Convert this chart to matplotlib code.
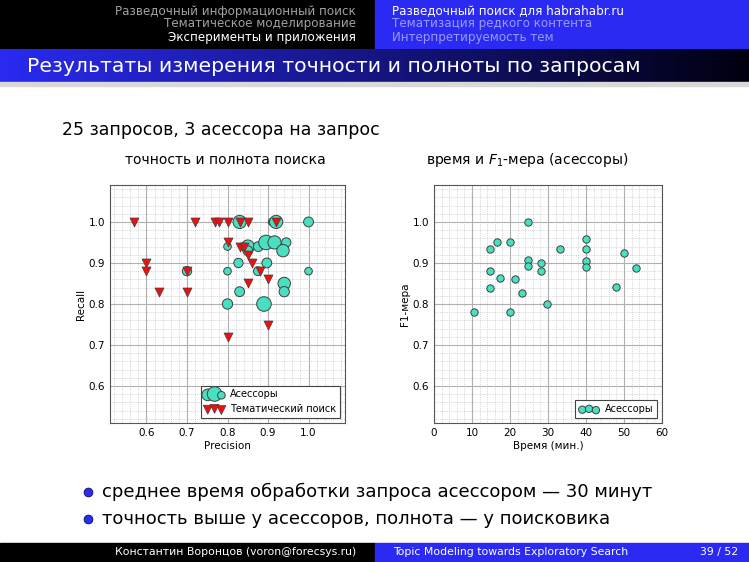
import matplotlib
matplotlib.use("Agg")
import matplotlib.pyplot as plt
from matplotlib.patches import Rectangle
from matplotlib.ticker import MultipleLocator
from matplotlib.colors import LinearSegmentedColormap
import numpy as np

# assessors: precision, recall, size class
ass_p = [0.83, 0.91, 0.92, 1.0, 0.80, 0.85, 0.85, 0.876, 0.895, 0.916, 0.945, 0.937,
         0.827, 0.897, 0.80, 0.70, 1.0, 0.83, 0.94, 0.94, 0.80, 0.89, 0.875]
ass_r = [1.0, 1.0, 1.0, 1.0, 0.94, 0.94, 0.93, 0.94, 0.95, 0.95, 0.95, 0.93,
         0.90, 0.90, 0.88, 0.88, 0.88, 0.83, 0.85, 0.83, 0.80, 0.80, 0.88]
ass_s = [90, 30, 90, 50, 30, 90, 50, 50, 110, 90, 45, 80,
         45, 50, 30, 45, 30, 50, 80, 55, 55, 110, 40]
# topic search
ts_p = [0.57, 0.72, 0.77, 0.78, 0.80, 0.83, 0.85, 0.92, 0.80, 0.83, 0.84, 0.85, 0.86,
        0.60, 0.60, 0.70, 0.88, 0.90, 0.85, 0.63, 0.70, 0.90, 0.80]
ts_r = [1.0, 1.0, 1.0, 1.0, 1.0, 1.0, 1.0, 1.0, 0.95, 0.94, 0.94, 0.92, 0.90,
        0.90, 0.88, 0.88, 0.88, 0.86, 0.85, 0.83, 0.83, 0.75, 0.72]
# time vs F1
t_min = [10.5, 14.8, 14.8, 14.8, 16.5, 17.4, 19.9, 19.9, 21.4, 23.2, 24.8, 24.8, 24.8,
         28.1, 28.1, 29.8, 33.2, 39.9, 39.9, 39.9, 39.9, 47.9, 49.9, 53.1]
f1 = [0.78, 0.935, 0.88, 0.838, 0.952, 0.863, 0.95, 0.78, 0.862, 0.828, 1.0, 0.908, 0.892,
      0.90, 0.881, 0.80, 0.934, 0.958, 0.934, 0.906, 0.891, 0.842, 0.924, 0.887]

W, H = 749, 562
fig = plt.figure(figsize=(W/100, H/100), dpi=100)
fig.patch.set_facecolor("white")
bg = fig.add_axes([0, 0, 1, 1]); bg.axis("off")

BLUE = "#2a2af2"
bg.add_patch(Rectangle((0, 0), 375, 49, color="black"))
bg.add_patch(Rectangle((375, 0), 374, 49, color=BLUE))
grad = np.linspace(0, 1, 256)[None, :]
cm = LinearSegmentedColormap.from_list("g", [BLUE, "#000010"])
bg.imshow(grad, extent=(0, W, 82, 49), aspect="auto", cmap=cm, zorder=1)
bg.add_patch(Rectangle((0, 82), W, 4, color="#d8d8d8", zorder=1))
bg.add_patch(Rectangle((0, 543), 375, 19, color="black"))
bg.add_patch(Rectangle((375, 543), 374, 19, color=BLUE))
bg.set_xlim(0, W); bg.set_ylim(H, 0)

hf = dict(fontsize=8.6, va="center")
bg.text(356, 11, "Разведочный информационный поиск", ha="right", color="#a0a0a0", **hf)
bg.text(356, 24, "Тематическое моделирование", ha="right", color="#a0a0a0", **hf)
bg.text(356, 37, "Эксперименты и приложения", ha="right", color="white", **hf)
bg.text(392, 11, "Разведочный поиск для habrahabr.ru", ha="left", color="white", **hf)
bg.text(392, 24, "Тематизация редкого контента", ha="left", color="#9a9af5", **hf)
bg.text(392, 37, "Интерпретируемость тем", ha="left", color="#9a9af5", **hf)
bg.text(27, 67, "Результаты измерения точности и полноты по запросам", color="white",
        fontsize=14.7, va="center", ha="left")
bg.text(62, 130, "25 запросов, 3 асессора на запрос", fontsize=12.5, va="center")
bg.text(225, 160, "точность и полнота поиска", fontsize=10, va="center", ha="center")
bg.text(527, 160, "время и $F_1$-мера (асессоры)", fontsize=10, va="center", ha="center")
for y, s in [(492, "среднее время обработки запроса асессором — 30 минут"),
             (519, "точность выше у асессоров, полнота — у поисковика")]:
    bg.scatter([88], [y], s=40, color="#2a2af0", edgecolors="#10105a", lw=0.6, zorder=3)
    bg.text(102, y, s, fontsize=13, va="center")
bg.text(356, 552, "Константин Воронцов (voron@forecsys.ru)", ha="right", color="white", fontsize=7.8, va="center")
bg.text(393, 552, "Topic Modeling towards Exploratory Search", ha="left", color="white", fontsize=7.8, va="center")
bg.text(738, 552, "39 / 52", ha="right", color="white", fontsize=7.8, va="center")

def style(ax):
    ax.set_ylim(0.51, 1.09)
    ax.yaxis.set_major_locator(MultipleLocator(0.1))
    ax.yaxis.set_minor_locator(MultipleLocator(0.02))
    ax.grid(which="major", color="#b0b0b0", lw=0.8)
    ax.grid(which="minor", color="#b8b8b8", lw=0.5, ls=":")
    ax.set_axisbelow(True)
    ax.tick_params(labelsize=7.5, length=0)
    ax.tick_params(which="minor", length=0)
    for sp in ax.spines.values():
        sp.set_color("#555555"); sp.set_linewidth(0.8)

ax1 = fig.add_axes([110/W, 1-423/H, 235/W, 238/H])
style(ax1)
ax1.set_xlim(0.51, 1.09)
ax1.xaxis.set_major_locator(MultipleLocator(0.1))
ax1.xaxis.set_minor_locator(MultipleLocator(0.02))
ax1.set_xticks([0.6, 0.7, 0.8, 0.9, 1.0])
ax1.set_yticks([0.6, 0.7, 0.8, 0.9, 1.0])
ax1.scatter(ass_p, ass_r, s=ass_s, c="#48e0c0", edgecolors="#404040", lw=0.7, zorder=3, label="Асессоры")
ax1.scatter(ts_p, ts_r, s=42, marker="v", c="#ee1010", edgecolors="#404040", lw=0.5, zorder=4, label="Тематический поиск")
ax1.set_xlabel("Precision", fontsize=7.5, labelpad=2)
ax1.set_ylabel("Recall", fontsize=7.5, labelpad=2)
leg = ax1.legend(loc="lower right", fontsize=7, scatterpoints=3, fancybox=False,
                 framealpha=1, edgecolor="#444444", handletextpad=0.6, borderpad=0.4)
leg.get_frame().set_linewidth(0.8)

ax2 = fig.add_axes([434/W, 1-423/H, 228/W, 238/H])
style(ax2)
ax2.set_xlim(0, 60)
ax2.xaxis.set_major_locator(MultipleLocator(10))
ax2.xaxis.set_minor_locator(MultipleLocator(2))
ax2.set_yticks([0.6, 0.7, 0.8, 0.9, 1.0])
ax2.scatter(t_min, f1, s=28, c="#48e0c0", edgecolors="#404040", lw=0.7, zorder=3, label="Асессоры")
ax2.set_xlabel("Время (мин.)", fontsize=7.5, labelpad=2)
ax2.set_ylabel("F1-мера", fontsize=7.5, labelpad=2)
leg2 = ax2.legend(loc="lower right", fontsize=7, scatterpoints=3, fancybox=False,
                  framealpha=1, edgecolor="#444444", handletextpad=0.6, borderpad=0.4)
leg2.get_frame().set_linewidth(0.8)

fig.savefig("out.png", dpi=100)
